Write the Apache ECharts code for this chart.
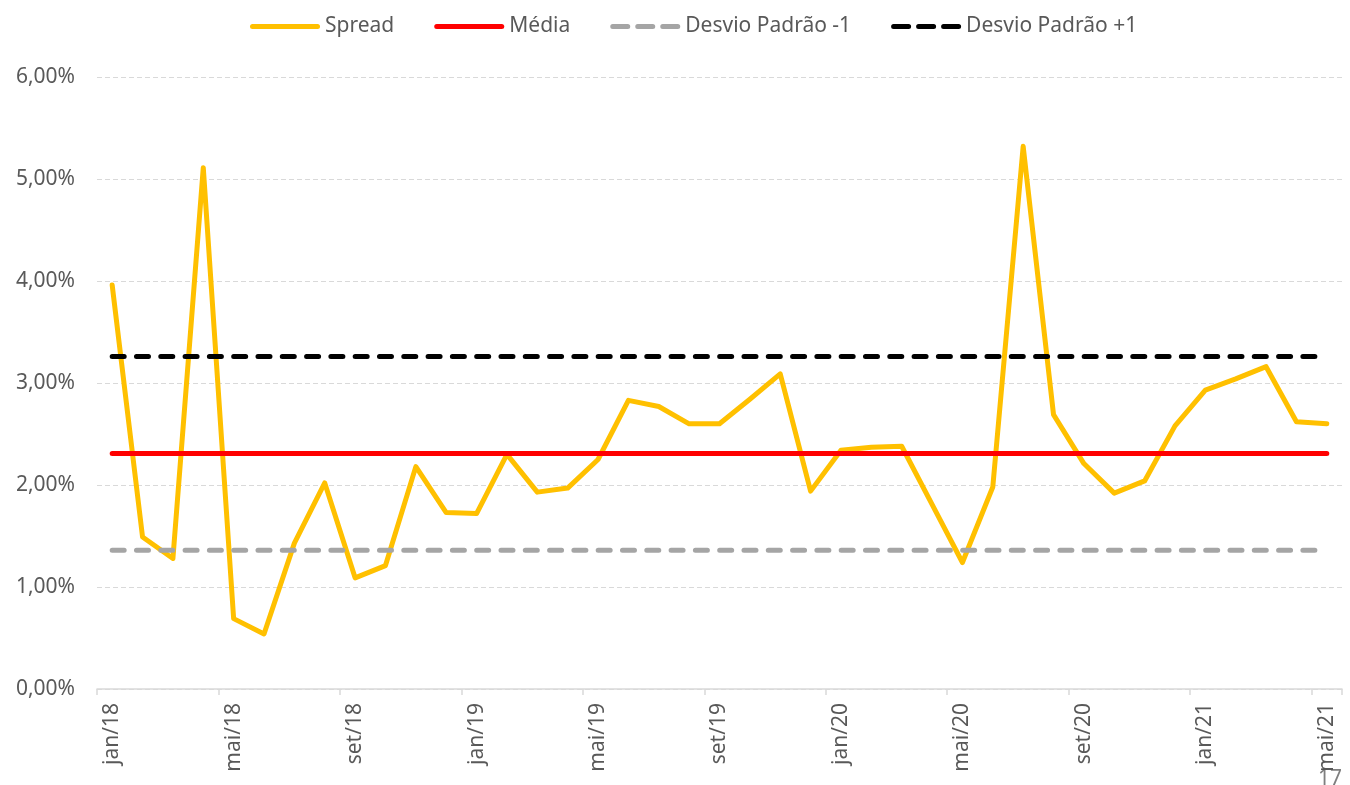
<!DOCTYPE html>
<html>
<head>
<meta charset="utf-8">
<script src="https://cdn.jsdelivr.net/npm/echarts@6/dist/echarts.min.js"></script>
<style>
  html, body { margin: 0; padding: 0; background: #ffffff; }
  #chart { width: 1350px; height: 785px; }
</style>
</head>
<body>
<div id="chart"></div>
<script>
const categories = [
  'jan/18','fev/18','mar/18','abr/18','mai/18','jun/18','jul/18','ago/18','set/18','out/18','nov/18','dez/18',
  'jan/19','fev/19','mar/19','abr/19','mai/19','jun/19','jul/19','ago/19','set/19','out/19','nov/19','dez/19',
  'jan/20','fev/20','mar/20','abr/20','mai/20','jun/20','jul/20','ago/20','set/20','out/20','nov/20','dez/20',
  'jan/21','fev/21','mar/21','abr/21','mai/21'
];
const spread = [
  3.96, 1.49, 1.28, 5.11, 0.69, 0.54, 1.43, 2.02, 1.09, 1.21, 2.18, 1.73,
  1.72, 2.30, 1.93, 1.97, 2.25, 2.83, 2.77, 2.60, 2.60, 2.84, 3.09, 1.94,
  2.34, 2.37, 2.38, 1.81, 1.24, 1.98, 5.32, 2.69, 2.21, 1.92, 2.04, 2.58,
  2.93, 3.04, 3.16, 2.62, 2.60
];
const media = 2.31;
const desvioMenos1 = 1.36;
const desvioMais1 = 3.26;
const yTicks = { min: 0, max: 6, interval: 1 };
const seriesNames = ['Spread', 'Média', 'Desvio Padrão -1', 'Desvio Padrão +1'];
const pageNumber = '17';

const FONT = 'Noto Sans';
const TXT = '#595959';
const FS = 21;

// legend icon shapes (rounded solid bar, three rounded dashes)
function seg(x0, x1) {
  const r = 2.5;
  return 'M' + (x0 + r) + ',0 H' + (x1 - r) + ' A' + r + ',' + r + ' 0 0 1 ' + (x1 - r) + ',5 H' + (x0 + r) +
         ' A' + r + ',' + r + ' 0 0 1 ' + (x0 + r) + ',0 Z ';
}
const solidIcon = 'path://' + seg(0, 70);
const dashIcon = 'path://' + seg(0, 20) + seg(25, 45) + seg(50, 70);

const chart = echarts.init(document.getElementById('chart'), null, { renderer: 'canvas' });

function constLine(v) { return categories.map(() => v); }

const option = {
  backgroundColor: '#ffffff',
  animation: false,
  textStyle: { fontFamily: FONT },
  legend: {
    top: 11,
    left: 245,
    itemWidth: 70,
    itemHeight: 5,
    itemGap: 40,
    textStyle: { fontFamily: FONT, fontSize: FS, color: TXT },
    data: [
      { name: seriesNames[0], icon: solidIcon },
      { name: seriesNames[1], icon: solidIcon },
      { name: seriesNames[2], icon: dashIcon },
      { name: seriesNames[3], icon: dashIcon }
    ]
  },
  grid: { left: 97, right: 8, top: 77, bottom: 96, containLabel: false },
  xAxis: {
    type: 'category',
    data: categories,
    boundaryGap: true,
    axisLine: { lineStyle: { color: '#d9d9d9', width: 1.5 } },
    axisTick: { show: true, interval: 3, length: 6, lineStyle: { color: '#d9d9d9', width: 1.5 } },
    axisLabel: {
      interval: 3,
      rotate: 90,
      margin: 14,
      fontFamily: FONT,
      fontSize: FS,
      color: TXT
    },
    splitLine: { show: false }
  },
  yAxis: {
    type: 'value',
    min: yTicks.min,
    max: yTicks.max,
    interval: yTicks.interval,
    axisLine: { show: false },
    axisTick: { show: false },
    axisLabel: {
      margin: 22,
      fontFamily: FONT,
      fontSize: FS,
      color: TXT,
      formatter: v => v.toFixed(2).replace('.', ',') + '%'
    },
    splitLine: { show: true, lineStyle: { color: '#d9d9d9', width: 1, type: [5, 3] } }
  },
  series: [
    {
      name: seriesNames[0], type: 'line', data: spread,
      symbol: 'none', showSymbol: false,
      lineStyle: { color: '#FFC000', width: 5, cap: 'round', join: 'round' },
      itemStyle: { color: '#FFC000' }
    },
    {
      name: seriesNames[1], type: 'line', data: constLine(media),
      symbol: 'none', showSymbol: false,
      lineStyle: { color: '#FF0000', width: 5, cap: 'round' },
      itemStyle: { color: '#FF0000' }
    },
    {
      name: seriesNames[2], type: 'line', data: constLine(desvioMenos1),
      symbol: 'none', showSymbol: false,
      lineStyle: { color: '#A5A5A5', width: 5, cap: 'round', type: [12, 12.3] },
      itemStyle: { color: '#A5A5A5' }
    },
    {
      name: seriesNames[3], type: 'line', data: constLine(desvioMais1),
      symbol: 'none', showSymbol: false,
      lineStyle: { color: '#000000', width: 5, cap: 'round', type: [12, 12.3] },
      itemStyle: { color: '#000000' }
    }
  ],
  graphic: [
    {
      type: 'text',
      left: 1318,
      top: 769,
      style: { text: pageNumber, fill: '#7f7f7f', font: '21px "Noto Sans"' }
    }
  ]
};

chart.setOption(option);
</script>
</body>
</html>
